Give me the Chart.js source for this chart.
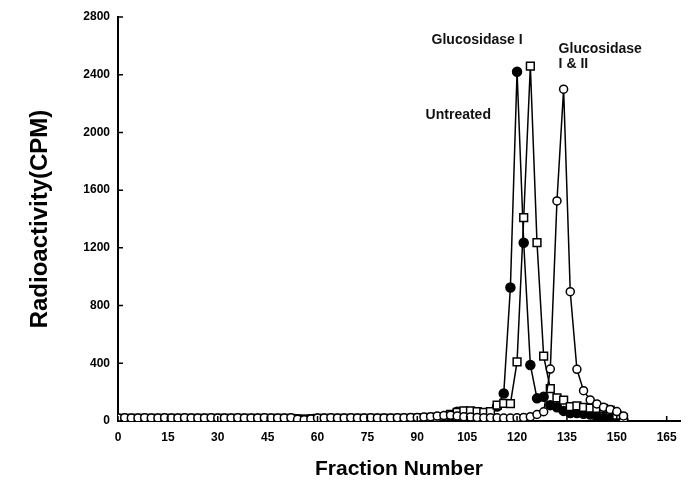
<!DOCTYPE html>
<html lang="en">
<head>
    <meta charset="UTF-8">
    <title>Fraction Number</title>
    <script src="https://cdn.jsdelivr.net/npm/chart.js"></script>
    <style>
        body {margin: 0; background: #fff;}
        canvas {display: block;}
    </style>
</head>
<body>
    <canvas id="myChart" width="696" height="490"></canvas>
    <script>
        // fraction numbers (every 2nd fraction)
        const fractions = [0,2,4,6,8,10,12,14,16,18,20,22,24,26,28,30,32,34,36,38,40,42,44,46,48,50,52,54,56,58,60,62,64,66,68,70,72,74,76,78,80,82,84,86,88,90,92,94,
            96,98,100,102,104,106,108,110,112,114,116,118,120,122,
            124,126,128,130,132,134,136,138,140,142,144,146,148,150,152];

        // Glucosidase I & II - open circles
        const glucIandII = [20,22,20,20,22,20,20,22,20,20, 22,20,20,20,22,20,20,20,22,20, 20,20,22,20,20,20,22,12,8,14, 20,20,22,20,20,22,20,20,22,20, 20,20,22,22,25,25,28,30,
            35,38,40,35,30,28,25,22,22,22,20,20,22,25,
            30,45,64,360,1525,2300,896,358,210,146,118,95,80,65,35];

        // Glucosidase I - open squares
        const glucI = [18,18,18,18,18,18,18,18,18,18, 18,18,18,18,18,18,18,18,18,18, 18,18,18,18,18,18,18,15,12,15, 18,18,18,18,18,18,18,18,18,18, 18,18,18,18,18,20,22,25,
            25,30,45,60,70,70,65,60,65,110,122,120,410,1409,
            2460,1236,450,225,160,145,100,105,95,90,88,88,75,40,20];

        // Untreated - filled circles
        const untreated = [15,15,15,15,15,15,15,15,15,15, 15,15,15,15,15,15,15,15,15,15, 15,15,15,15,15,15,15,12,10,12, 15,15,15,15,15,15,15,15,15,15, 15,15,15,15,15,15,18,20,
            20,25,35,64,64,40,30,30,30,100,190,925,2420,1236,
            388,157,168,110,95,70,55,55,50,45,30,20,15,10,5];

        const xTicks = [0,15,30,45,60,75,90,105,120,135,150,165];
        const yTicks = [0,400,800,1200,1600,2000,2400,2800];

        // text next to the peaks (data coords)
        const peakLabels = [
            {text: "Glucosidase I", x: 94.3, y: 2640},
            {text: "Glucosidase", x: 132.5, y: 2580},
            {text: "I & II", x: 132.5, y: 2470},
            {text: "Untreated", x: 92.5, y: 2120}
        ];

        const FONT = "'Liberation Sans', Arial, sans-serif";

        function toPoints(vals) {
            return fractions.map((f, i) => ({x: f, y: vals[i]}));
        }

        // 안쪽 눈금 + 라벨
        const extras = {
            id: "extras",
            afterDraw(chart) {
                const ctx = chart.ctx;
                const xs = chart.scales.x, ys = chart.scales.y;
                const a = chart.chartArea;
                ctx.save();
                ctx.strokeStyle = "#000";
                ctx.lineWidth = 1.5;
                ctx.beginPath();
                yTicks.forEach(v => {
                    const p = ys.getPixelForValue(v);
                    ctx.moveTo(a.left, p);
                    ctx.lineTo(a.left + 5, p);
                });
                xTicks.forEach(v => {
                    const p = xs.getPixelForValue(v);
                    ctx.moveTo(p, a.bottom);
                    ctx.lineTo(p, a.bottom - 5);
                });
                ctx.stroke();

                ctx.fillStyle = "#111";
                ctx.font = "bold 14px " + FONT;
                ctx.textBaseline = "middle";
                ctx.textAlign = "left";
                peakLabels.forEach(l => {
                    ctx.fillText(l.text, xs.getPixelForValue(l.x), ys.getPixelForValue(l.y));
                });
                ctx.restore();
            }
        };

        const lineStyle = {
            borderColor: "#000",
            borderWidth: 1.5,
            pointBorderColor: "#000",
            pointBorderWidth: 1.5,
            tension: 0,
            fill: false
        };

        const data = {
            datasets: [
                Object.assign({label: "Glucosidase I & II", data: toPoints(glucIandII), order: 1,
                    pointStyle: "circle", pointRadius: 4, pointBackgroundColor: "#fff"}, lineStyle),
                Object.assign({label: "Glucosidase I", data: toPoints(glucI), order: 2,
                    pointStyle: "rect", pointRadius: 5.5, pointBackgroundColor: "#fff"}, lineStyle),
                Object.assign({label: "Untreated", data: toPoints(untreated), order: 3,
                    pointStyle: "circle", pointRadius: 4.5, pointBackgroundColor: "#000"}, lineStyle)
            ]
        };

        const configs = {
            type: "line",
            data: data,
            plugins: [extras],
            options: {
                responsive: false,
                animation: false,
                layout: {padding: {top: 17, right: 16, left: 0, bottom: 0}},
                plugins: {legend: {display: false}, tooltip: {enabled: false}},
                scales: {
                    x: {
                        type: "linear",
                        min: 0,
                        max: 169,
                        afterBuildTicks: s => { s.ticks = xTicks.map(v => ({value: v})); },
                        afterFit: s => { s.height = 69; },
                        grid: {display: true, drawOnChartArea: false, drawTicks: false},
                        border: {display: true, color: "#000", width: 2},
                        ticks: {color: "#000", padding: 9, maxRotation: 0, callback: v => String(v),
                            font: {family: FONT, size: 12, weight: "bold"}},
                        title: {display: true, text: "Fraction Number", color: "#000",
                            padding: {top: 0, bottom: 8}, font: {family: FONT, size: 21, weight: "bold"}}
                    },
                    y: {
                        min: 0,
                        max: 2800,
                        afterBuildTicks: s => { s.ticks = yTicks.map(v => ({value: v})); },
                        afterFit: s => { s.width = 118; },
                        grid: {display: true, drawOnChartArea: false, drawTicks: false},
                        border: {display: true, color: "#000", width: 2},
                        ticks: {color: "#000", padding: 8, callback: v => String(v),
                            font: {family: FONT, size: 12, weight: "bold"}},
                        title: {display: true, text: "Radioactivity(CPM)", color: "#000",
                            padding: {top: 26, bottom: 0}, font: {family: FONT, size: 24, weight: "bold"}}
                    }
                }
            }
        };

        new Chart(document.getElementById("myChart"), configs);
    </script>
</body>
</html>
